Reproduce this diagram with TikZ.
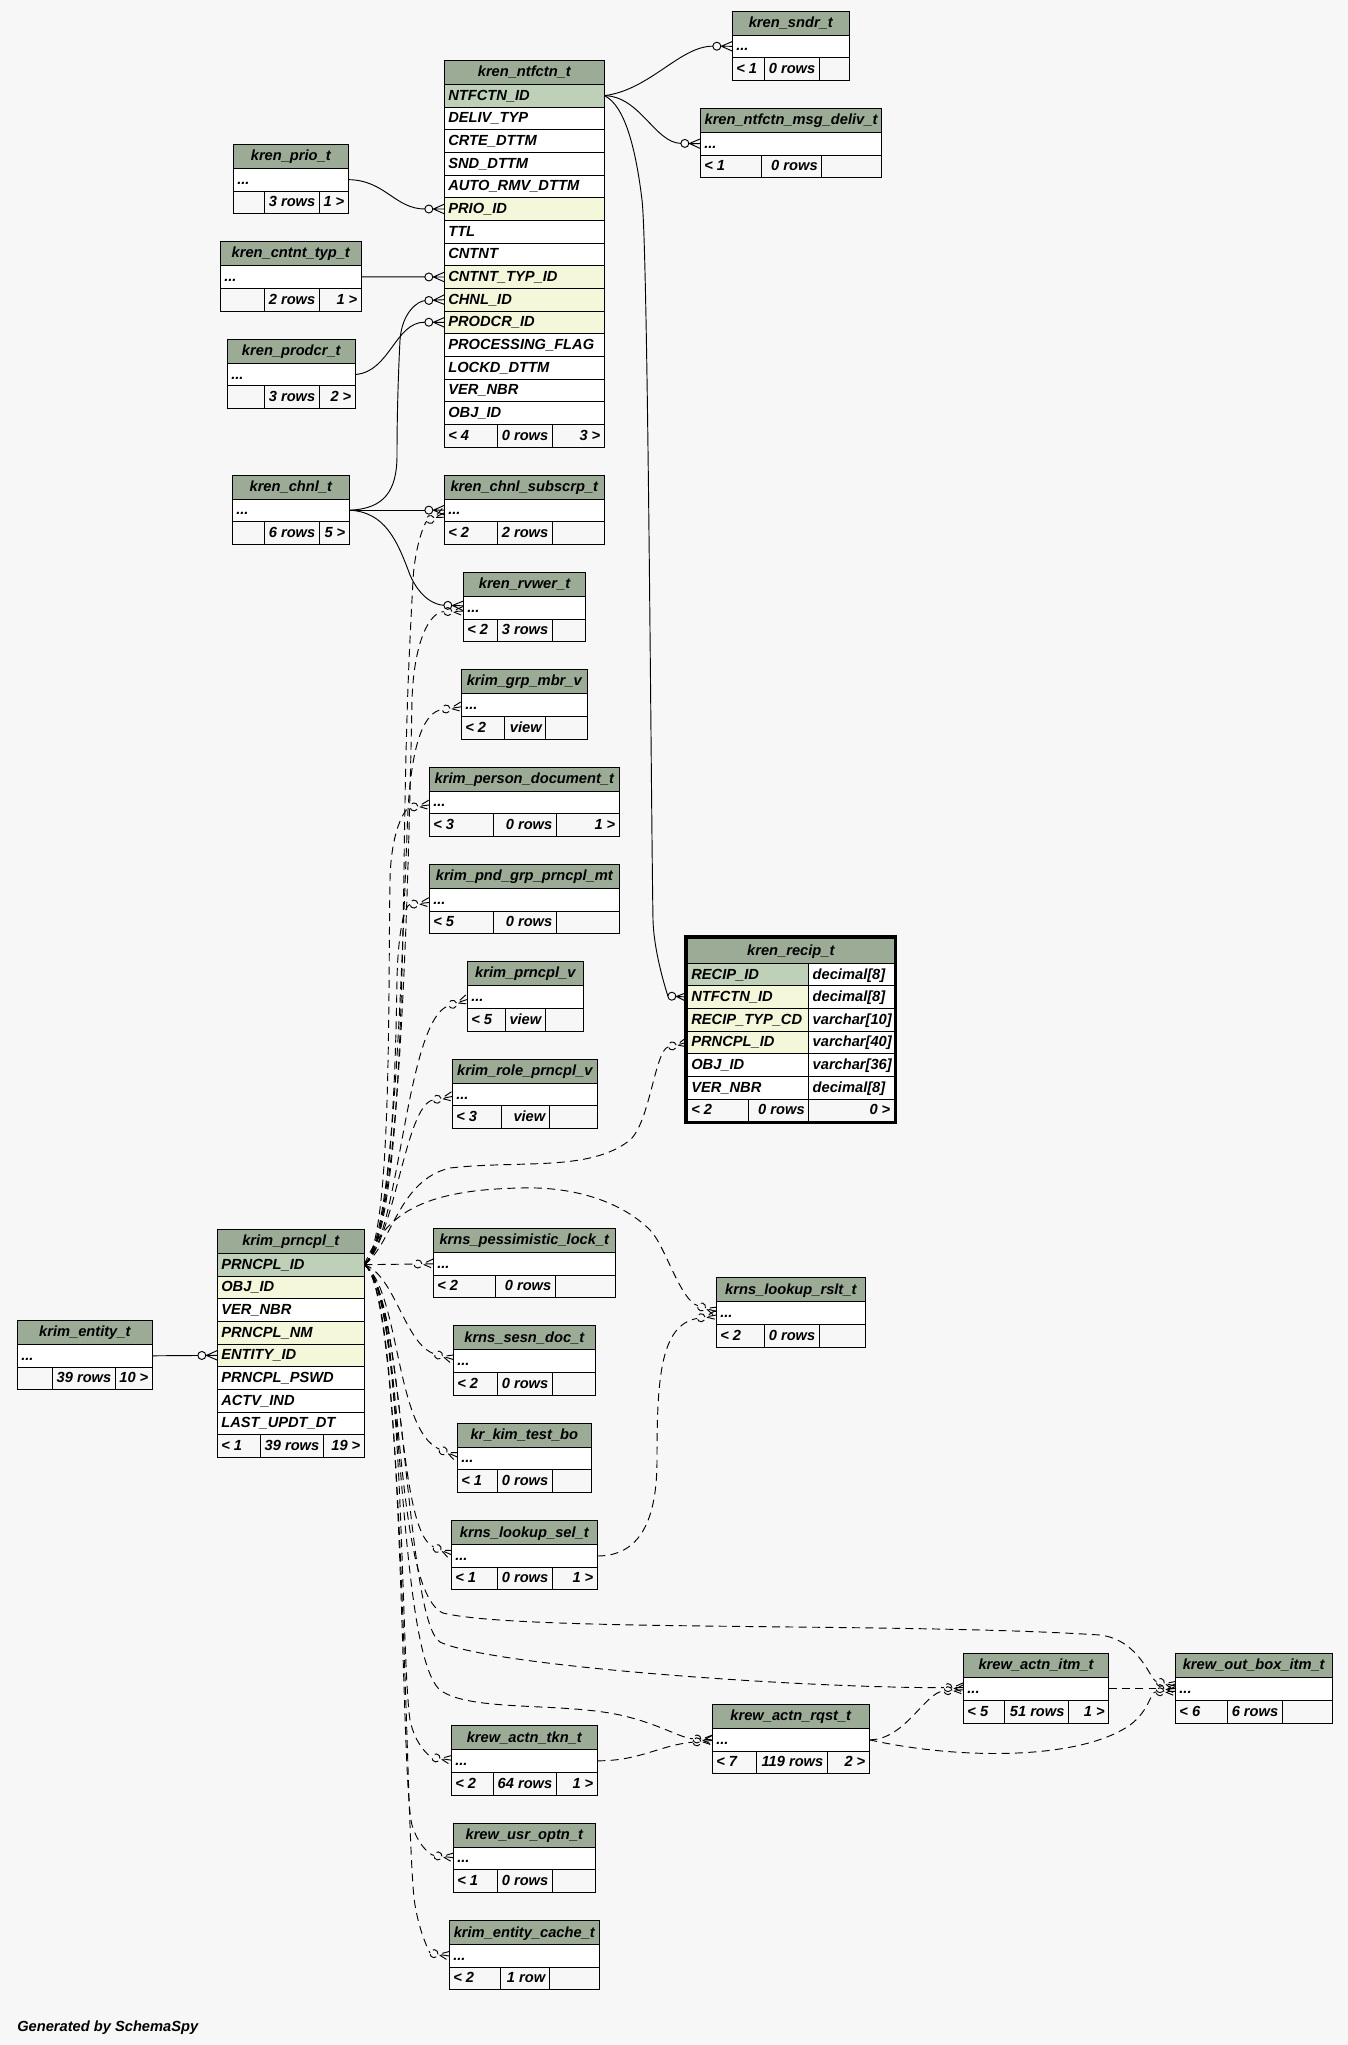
\documentclass[tikz,border=0pt]{standalone}
\usepackage{fontspec}
\newfontfamily\lsans{Liberation Sans}
\usetikzlibrary{arrows.meta}
\definecolor{bgc}{HTML}{F7F7F7}
\definecolor{hdrc}{HTML}{9BAB96}
\definecolor{pkc}{HTML}{BED1B8}
\definecolor{fkc}{HTML}{F4F7DA}
\pgfdeclarelayer{back}
\pgfdeclarelayer{edges}
\pgfsetlayers{back,edges,main}
\pgfdeclarearrow{
  name = CrowO,
  setup code = {
    \pgfarrowssettipend{0pt}
    \pgfarrowssetlineend{-14.6pt}
    \pgfarrowssetbackend{-14.6pt}
    \pgfarrowshullpoint{0pt}{3.8pt}
    \pgfarrowshullpoint{0pt}{-3.8pt}
    \pgfarrowshullpoint{-14.6pt}{0pt}
  },
  drawing code = {
    \pgfpathmoveto{\pgfqpoint{0pt}{3.6pt}}
    \pgfpathlineto{\pgfqpoint{-8.2pt}{0pt}}
    \pgfpathlineto{\pgfqpoint{0pt}{-3.6pt}}
    \pgfpathmoveto{\pgfqpoint{0pt}{0pt}}
    \pgfpathlineto{\pgfqpoint{-8.6pt}{0pt}}
    \pgfusepathqstroke
    \pgfpathcircle{\pgfqpoint{-11.6pt}{0pt}}{3pt}
    \pgfusepathqstroke
  }
}
\tikzset{
  cellsty/.style={draw=black, line width=0.75pt, inner sep=0pt, outer sep=0pt, rectangle},
  txt/.style={font=\lsans\bfseries\itshape\fontsize{11}{13}\selectfont, inner sep=0pt, outer sep=0pt},
  rel/.style={draw=black, line width=0.7pt, -{CrowO}},
  implied/.style={rel, dash pattern=on 6pt off 4pt},
  frame/.style={draw=black, line width=2.25pt}
}
\newcommand\setx[2]{\gdef\Xa{#1}\gdef\Xb{#2}}
\newcommand\mkcell[6]{%
  \pgfmathsetlengthmacro\cw{((#4)-(#2))*0.75pt}%
  \pgfmathsetlengthmacro\chh{((#5)-(#3))*0.75pt}%
  \node[cellsty, fill=#6, minimum width=\cw, minimum height=\chh] (#1) at ({((#2)+(#4))/2},{((#3)+(#5))/2}) {};}
\newcommand\ltx[2]{\node[txt, anchor=base west] (#1-t) at ([xshift=3pt,yshift=-3.4pt]#1.west) {#2};}
\newcommand\rtx[2]{\node[txt, anchor=base east] (#1-t) at ([xshift=-3pt,yshift=-3.4pt]#1.east) {#2};}
\newcommand\ctx[2]{\node[txt, anchor=base] (#1-t) at ([yshift=-3.4pt]#1.center) {#2};}
\newcommand\hdr[4]{\mkcell{#1-h}{\Xa}{#2}{\Xb}{#3}{hdrc}\ctx{#1-h}{#4}}
\newcommand\rowc[5]{\mkcell{#1}{\Xa}{#2}{\Xb}{#3}{#4}\ltx{#1}{#5}}
\newcommand\foot[8]{%
  \mkcell{#1-f1}{\Xa}{#2}{#4}{#3}{bgc}\if\relax\detokenize{#6}\relax\else\ltx{#1-f1}{#6}\fi
  \mkcell{#1-f2}{#4}{#2}{#5}{#3}{bgc}\if\relax\detokenize{#7}\relax\else\rtx{#1-f2}{#7}\fi
  \mkcell{#1-f3}{#5}{#2}{\Xb}{#3}{bgc}\if\relax\detokenize{#8}\relax\else\rtx{#1-f3}{#8}\fi}
\newcommand\stbl[8]{\setx{#2}{#3}\hdr{#1}{#4}{#5}{#8}\rowc{#1-r}{#5}{#6}{white}{...}}

\begin{document}
\begin{tikzpicture}[x=0.75pt,y=-0.75pt]
\begin{pgfonlayer}{back}
\fill[bgc] (0,0) rectangle (1348,2045);
\end{pgfonlayer}
\useasboundingbox (0,0) rectangle (1348,2045);

% kren_ntfctn_t
\setx{444.3}{604.3}
\hdr{ntf}{60.3}{84.33}{kren\_ntfctn\_t}
\rowc{ntf-1}{84.33}{107}{pkc}{NTFCTN\_ID}
\rowc{ntf-2}{107}{129.67}{white}{DELIV\_TYP}
\rowc{ntf-3}{129.67}{152.33}{white}{CRTE\_DTTM}
\rowc{ntf-4}{152.33}{175}{white}{SND\_DTTM}
\rowc{ntf-5}{175}{197.67}{white}{AUTO\_RMV\_DTTM}
\rowc{ntf-6}{197.67}{220.33}{fkc}{PRIO\_ID}
\rowc{ntf-7}{220.33}{243}{white}{TTL}
\rowc{ntf-8}{243}{265.67}{white}{CNTNT}
\rowc{ntf-9}{265.67}{288.33}{fkc}{CNTNT\_TYP\_ID}
\rowc{ntf-10}{288.33}{311}{fkc}{CHNL\_ID}
\rowc{ntf-11}{311}{333.67}{fkc}{PRODCR\_ID}
\rowc{ntf-12}{333.67}{356.33}{white}{PROCESSING\_FLAG}
\rowc{ntf-13}{356.33}{379}{white}{LOCKD\_DTTM}
\rowc{ntf-14}{379}{401.67}{white}{VER\_NBR}
\rowc{ntf-15}{401.67}{424.33}{white}{OBJ\_ID}
\foot{ntf}{424.33}{447}{497.3}{552.3}{< 4}{0 rows}{3 >}

\stbl{prio}{233.3}{348.3}{144.3}{168.3}{191}{213.3}{kren\_prio\_t}
\foot{prio}{191}{213.3}{264.3}{319.3}{}{3 rows}{1 >}
\stbl{cnt}{220.3}{361.3}{241.3}{265.3}{288.3}{311}{kren\_cntnt\_typ\_t}
\foot{cnt}{288.3}{311}{264.3}{319.3}{}{2 rows}{1 >}
\stbl{prod}{227.3}{355.3}{339.3}{363.3}{385.7}{408}{kren\_prodcr\_t}
\foot{prod}{385.7}{408}{264.3}{319.3}{}{3 rows}{2 >}
\stbl{sndr}{732.3}{849.3}{11.3}{35.3}{57.3}{80.3}{kren\_sndr\_t}
\foot{sndr}{57.3}{80.3}{764.3}{819.3}{< 1}{0 rows}{}
\stbl{mdl}{700.3}{881.7}{108.3}{132.3}{155}{177}{kren\_ntfctn\_msg\_deliv\_t}
\foot{mdl}{155}{177}{761.3}{821.7}{< 1}{0 rows}{}
\stbl{chnl}{232.3}{349.3}{475.3}{499.3}{521}{544}{kren\_chnl\_t}
\foot{chnl}{521}{544}{264.3}{319.3}{}{6 rows}{5 >}
\stbl{sub}{444.3}{604.3}{475.3}{499.3}{521}{544}{kren\_chnl\_subscrp\_t}
\foot{sub}{521}{544}{497.3}{552.3}{< 2}{2 rows}{}
\stbl{rv}{463.3}{585.7}{572.3}{596.3}{619.3}{641.3}{kren\_rvwer\_t}
\foot{rv}{619.3}{641.3}{497.3}{552.3}{< 2}{3 rows}{}
\stbl{gmv}{461.3}{587.3}{669.3}{693.3}{716.3}{739}{krim\_grp\_mbr\_v}
\foot{gmv}{716.3}{739}{504.3}{545.7}{< 2}{view}{}
\stbl{pdoc}{429.3}{619.3}{767.3}{791.3}{813.3}{836.3}{krim\_person\_document\_t}
\foot{pdoc}{813.3}{836.3}{493.3}{556.3}{< 3}{0 rows}{1 >}
\stbl{pnd}{429.3}{619.3}{864.3}{888.3}{911.3}{933.3}{krim\_pnd\_grp\_prncpl\_mt}
\foot{pnd}{911.3}{933.3}{493.3}{556.3}{< 5}{0 rows}{}
\stbl{pv}{467.3}{583.3}{961.3}{985.3}{1008.3}{1031.3}{krim\_prncpl\_v}
\foot{pv}{1008.3}{1031.3}{505.3}{545.3}{< 5}{view}{}
\stbl{rpv}{452.3}{597.3}{1059.3}{1083.3}{1105.7}{1128}{krim\_role\_prncpl\_v}
\foot{rpv}{1105.7}{1128}{501.3}{549.3}{< 3}{view}{}
\stbl{ent}{17.3}{152.3}{1320.3}{1344.3}{1367.3}{1389.3}{krim\_entity\_t}
\foot{ent}{1367.3}{1389.3}{52.3}{115.3}{}{39 rows}{10 >}
\stbl{plk}{433.3}{615.3}{1228.3}{1252.3}{1275.3}{1297.3}{krns\_pessimistic\_lock\_t}
\foot{plk}{1275.3}{1297.3}{495.7}{555.3}{< 2}{0 rows}{}
\stbl{sesn}{453.3}{595.3}{1325.7}{1349.3}{1372.3}{1395}{krns\_sesn\_doc\_t}
\foot{sesn}{1372.3}{1395}{497.3}{552.3}{< 2}{0 rows}{}
\stbl{ktb}{457.3}{591.3}{1423.3}{1447.3}{1469.3}{1492.3}{kr\_kim\_test\_bo}
\foot{ktb}{1469.3}{1492.3}{497.3}{552.3}{< 1}{0 rows}{}
\stbl{lsel}{451.3}{597.3}{1520.7}{1544.3}{1567.7}{1589}{krns\_lookup\_sel\_t}
\foot{lsel}{1567.7}{1589}{497.3}{552.3}{< 1}{0 rows}{1 >}
\stbl{lrs}{716.3}{865.3}{1277.7}{1301.3}{1324.7}{1347}{krns\_lookup\_rslt\_t}
\foot{lrs}{1324.7}{1347}{764.3}{819.3}{< 2}{0 rows}{}
\stbl{tkn}{451.3}{597.3}{1725.7}{1749.3}{1772.3}{1795}{krew\_actn\_tkn\_t}
\foot{tkn}{1772.3}{1795}{493.3}{556.3}{< 2}{64 rows}{1 >}
\stbl{uso}{453.3}{595.3}{1823.3}{1847.3}{1869.3}{1892.3}{krew\_usr\_optn\_t}
\foot{uso}{1869.3}{1892.3}{497.3}{552.3}{< 1}{0 rows}{}
\stbl{ecache}{449.3}{599.3}{1920.7}{1944.3}{1967.7}{1989}{krim\_entity\_cache\_t}
\foot{ecache}{1967.7}{1989}{500.3}{549.3}{< 2}{1 row}{}
\stbl{rqst}{712.3}{869.3}{1704.3}{1728.3}{1751.3}{1773}{krew\_actn\_rqst\_t}
\foot{rqst}{1751.3}{1773}{756.3}{827.3}{< 7}{119 rows}{2 >}
\stbl{itm}{963.4}{1108.6}{1653.3}{1677.3}{1700}{1723.3}{krew\_actn\_itm\_t}
\foot{itm}{1700}{1723.3}{1004.8}{1068.5}{< 5}{51 rows}{1 >}
\stbl{obx}{1175.4}{1332}{1653.3}{1677.3}{1700}{1723.3}{krew\_out\_box\_itm\_t}
\foot{obx}{1700}{1723.3}{1227.4}{1282.2}{< 6}{6 rows}{}

% krim_prncpl_t
\setx{217.3}{364.3}
\hdr{pr}{1229.3}{1253.33}{krim\_prncpl\_t}
\rowc{pr-1}{1253.33}{1276}{pkc}{PRNCPL\_ID}
\rowc{pr-2}{1276}{1298.67}{fkc}{OBJ\_ID}
\rowc{pr-3}{1298.67}{1321.33}{white}{VER\_NBR}
\rowc{pr-4}{1321.33}{1344}{fkc}{PRNCPL\_NM}
\rowc{pr-5}{1344}{1366.67}{fkc}{ENTITY\_ID}
\rowc{pr-6}{1366.67}{1389.33}{white}{PRNCPL\_PSWD}
\rowc{pr-7}{1389.33}{1412}{white}{ACTV\_IND}
\rowc{pr-8}{1412}{1434.67}{white}{LAST\_UPDT\_DT}
\foot{pr}{1434.67}{1457.3}{260.3}{323.3}{< 1}{39 rows}{19 >}

% kren_recip_t
\setx{687.3}{894.3}
\hdr{rc}{938.3}{963.3}{kren\_recip\_t}
\mkcell{rc-1}{687.3}{963.3}{808.7}{985.7}{pkc}\ltx{rc-1}{RECIP\_ID}
\mkcell{rc-1y}{808.7}{963.3}{894.3}{985.7}{white}\ltx{rc-1y}{decimal[8]}
\mkcell{rc-2}{687.3}{985.7}{808.7}{1008.3}{fkc}\ltx{rc-2}{NTFCTN\_ID}
\mkcell{rc-2y}{808.7}{985.7}{894.3}{1008.3}{white}\ltx{rc-2y}{decimal[8]}
\mkcell{rc-3}{687.3}{1008.3}{808.7}{1031}{fkc}\ltx{rc-3}{RECIP\_TYP\_CD}
\mkcell{rc-3y}{808.7}{1008.3}{894.3}{1031}{white}\ltx{rc-3y}{varchar[10]}
\mkcell{rc-4}{687.3}{1031}{808.7}{1053.7}{fkc}\ltx{rc-4}{PRNCPL\_ID}
\mkcell{rc-4y}{808.7}{1031}{894.3}{1053.7}{white}\ltx{rc-4y}{varchar[40]}
\mkcell{rc-5}{687.3}{1053.7}{808.7}{1076.3}{white}\ltx{rc-5}{OBJ\_ID}
\mkcell{rc-5y}{808.7}{1053.7}{894.3}{1076.3}{white}\ltx{rc-5y}{varchar[36]}
\mkcell{rc-6}{687.3}{1076.3}{808.7}{1099}{white}\ltx{rc-6}{VER\_NBR}
\mkcell{rc-6y}{808.7}{1076.3}{894.3}{1099}{white}\ltx{rc-6y}{decimal[8]}
\foot{rc}{1099}{1121.3}{748.7}{808.7}{< 2}{0 rows}{0 >}
\draw[frame] (685.8,936.6) rectangle (895.6,1122.3);

\node[txt, anchor=base west] (gen) at (17.3,2031) {Generated by SchemaSpy};

\begin{pgfonlayer}{edges}
% real relationships
\draw[rel] (prio-r.east) .. controls (385,180) and (395,209) .. (ntf-6.west);
\draw[rel] (cnt-r.east) -- (ntf-9.west);
\draw[rel] (chnl-r.east) .. controls (385,509) and (397,490) .. (397,455) .. controls (397,420) and (398,380) .. (400,340) .. controls (402,312) and (418,301) .. (ntf-10.west);
\draw[rel] (prod-r.east) .. controls (390,372) and (395,322) .. (ntf-11.west);
\draw[rel] (chnl-r.east) -- (sub-r.west);
\draw[rel] (chnl-r.east) .. controls (385,512) and (397,540) .. (410,575) .. controls (420,598) and (435,605) .. ([yshift=1.5pt]rv-r.west);
\draw[rel] (ntf-1.east) .. controls (650,90) and (680,46) .. (sndr-r.west);
\draw[rel] (ntf-1.east) .. controls (640,96) and (655,143) .. (mdl-r.west);
\draw[rel] (ntf-1.east) .. controls (625,105) and (636,150) .. (642,200) .. controls (648,250) and (651,800) .. (653,920) .. controls (654,955) and (668,996) .. (rc-2.west);
\draw[rel] (ent-r.east) -- (pr-5.west);
% implied relationships
\draw[implied] (pr-1.east) .. controls (398,1240) and (402,1000) .. (404,870) .. controls (406,700) and (410,640) .. (413,580) .. controls (415,545) and (425,522) .. ([yshift=-2pt]sub-r.west);
\draw[implied] (pr-1.east) .. controls (400,1240) and (408,900) .. (412,700) .. controls (414,640) and (430,612) .. ([yshift=-2.5pt]rv-r.west);
\draw[implied] (pr-1.east) .. controls (395,1240) and (402,950) .. (408,810) .. controls (412,740) and (425,712) .. ([yshift=-1.5pt]gmv-r.west);
\draw[implied] (pr-1.east) .. controls (392,1240) and (388,1000) .. (390,880) .. controls (391,830) and (405,808) .. ([yshift=-2pt]pdoc-r.west);
\draw[implied] (pr-1.east) .. controls (392,1245) and (396,1050) .. (397,980) .. controls (398,930) and (405,905) .. ([yshift=-2pt]pnd-r.west);
\draw[implied] (pr-1.east) .. controls (400,1240) and (405,1020) .. ([yshift=-2pt]pv-r.west);
\draw[implied] (pr-1.east) .. controls (395,1240) and (405,1105) .. ([yshift=-1.5pt]rpv-r.west);
\draw[implied] (pr-1.east) .. controls (392,1245) and (398,1180) .. (450,1168) .. controls (520,1160) and (590,1172) .. (630,1140) .. controls (650,1122) and (655,1050) .. (rc-4.west);
\draw[implied] (pr-1.east) .. controls (385,1215) and (420,1190) .. (520,1188) .. controls (580,1186) and (625,1205) .. (650,1230) .. controls (665,1245) and (680,1300) .. ([yshift=1pt]lrs-r.west);
\draw[implied] (lsel-r.east) .. controls (640,1556) and (657,1520) .. (657,1460) .. controls (657,1380) and (660,1325) .. ([yshift=-1.5pt]lrs-r.west);
\draw[implied] (pr-1.east) -- (plk-r.west);
\draw[implied] (pr-1.east) .. controls (395,1275) and (405,1345) .. ([yshift=1pt]sesn-r.west);
\draw[implied] (pr-1.east) .. controls (400,1290) and (395,1430) .. ([yshift=1pt]ktb-r.west);
\draw[implied] (pr-1.east) .. controls (405,1300) and (395,1530) .. ([yshift=1pt]lsel-r.west);
\draw[implied] (pr-1.east) .. controls (405,1290) and (405,1620) .. (440,1642) .. controls (490,1666) and (800,1688) .. ([yshift=0.8pt]itm-r.west);
\draw[implied] (pr-1.east) .. controls (405,1290) and (390,1590) .. (443,1613) .. controls (520,1632) and (900,1622) .. (1100,1635) .. controls (1140,1640) and (1150,1680) .. ([yshift=2pt]obx-r.west);
\draw[implied] (pr-1.east) .. controls (405,1290) and (395,1650) .. (440,1690) .. controls (470,1712) and (560,1702) .. (620,1715) .. controls (660,1724) and (680,1738) .. (rqst-r.west);
\draw[implied] (pr-1.east) .. controls (405,1290) and (400,1650) .. (410,1720) .. controls (415,1745) and (430,1757) .. ([yshift=0.5pt]tkn-r.west);
\draw[implied] (tkn-r.east) .. controls (640,1761) and (660,1745) .. ([yshift=-0.5pt]rqst-r.west);
\draw[implied] (pr-1.east) .. controls (405,1290) and (400,1780) .. (412,1825) .. controls (418,1845) and (430,1855) .. ([yshift=0.5pt]uso-r.west);
\draw[implied] (pr-1.east) .. controls (405,1290) and (405,1850) .. (415,1905) .. controls (420,1935) and (430,1953) .. (ecache-r.west);
\draw[implied] (rqst-r.east) .. controls (905,1740) and (925,1692) .. ([yshift=-0.8pt]itm-r.west);
\draw[implied] (rqst-r.east) .. controls (960,1760) and (1080,1760) .. (1130,1725) .. controls (1150,1710) and (1150,1692) .. ([yshift=-2pt]obx-r.west);
\draw[implied] (itm-r.east) -- (obx-r.west);
\end{pgfonlayer}
\end{tikzpicture}
\end{document}
